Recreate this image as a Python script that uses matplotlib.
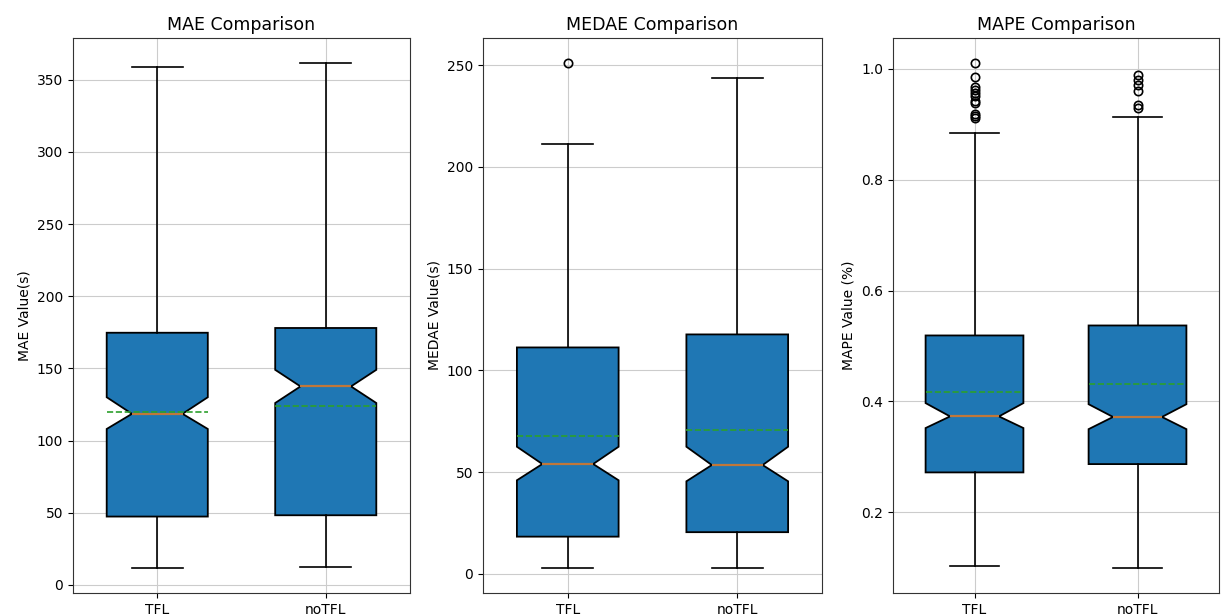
import matplotlib
matplotlib.use("Agg")
import matplotlib.pyplot as plt

groups = ["TFL", "noTFL"]

# MAE (s)
mae_whislo = [11.8, 12.5]
mae_q1 = [47.3, 48.2]
mae_med = [118.5, 137.5]
mae_q3 = [174.7, 178.0]
mae_whishi = [359.0, 361.5]
mae_mean = [119.5, 124.0]
mae_cilo = [108.0, 126.0]
mae_cihi = [130.0, 149.0]
mae_fliers = [[], []]

# MEDAE (s)
medae_whislo = [3.0, 3.0]
medae_q1 = [18.3, 20.5]
medae_med = [54.0, 53.5]
medae_q3 = [111.3, 117.7]
medae_whishi = [211.5, 243.5]
medae_mean = [68.0, 70.5]
medae_cilo = [46.0, 45.5]
medae_cihi = [62.5, 62.5]
medae_fliers = [[251.0], []]

# MAPE (%)
mape_whislo = [0.103, 0.100]
mape_q1 = [0.272, 0.287]
mape_med = [0.373, 0.372]
mape_q3 = [0.519, 0.537]
mape_whishi = [0.884, 0.913]
mape_mean = [0.417, 0.432]
mape_cilo = [0.352, 0.350]
mape_cihi = [0.397, 0.395]
mape_fliers = [[1.010, 0.986, 0.968, 0.962, 0.957, 0.950, 0.942, 0.938, 0.918, 0.914, 0.912],
               [0.988, 0.979, 0.970, 0.960, 0.935, 0.930]]


def make_stats(whislo, q1, med, q3, whishi, mean, cilo, cihi, fliers):
    stats = []
    for i, g in enumerate(groups):
        stats.append(dict(label=g, whislo=whislo[i], q1=q1[i], med=med[i], q3=q3[i],
                          whishi=whishi[i], mean=mean[i], cilo=cilo[i], cihi=cihi[i],
                          fliers=fliers[i]))
    return stats


panels = [
    ("MAE Comparison", "MAE Value(s)",
     make_stats(mae_whislo, mae_q1, mae_med, mae_q3, mae_whishi, mae_mean, mae_cilo, mae_cihi, mae_fliers)),
    ("MEDAE Comparison", "MEDAE Value(s)",
     make_stats(medae_whislo, medae_q1, medae_med, medae_q3, medae_whishi, medae_mean, medae_cilo, medae_cihi, medae_fliers)),
    ("MAPE Comparison", "MAPE Value (%)",
     make_stats(mape_whislo, mape_q1, mape_med, mape_q3, mape_whishi, mape_mean, mape_cilo, mape_cihi, mape_fliers)),
]

W, H = 1221, 615
fig = plt.figure(figsize=(W / 100, H / 100), dpi=100)

# axes boxes in pixels: left, right
px_x = [(73, 410), (483, 822), (893, 1219)]
top, bottom = 38, 593

for (title, ylabel, stats), (l, r) in zip(panels, px_x):
    ax = fig.add_axes([l / W, 1 - bottom / H, (r - l) / W, (bottom - top) / H])
    bp = ax.bxp(stats, shownotches=True, showmeans=True, meanline=True,
                patch_artist=True, widths=0.6,
                boxprops=dict(linewidth=1.3),
                whiskerprops=dict(linewidth=1.2),
                capprops=dict(linewidth=1.2),
                medianprops=dict(color='#c0773a', linewidth=1.6),
                meanprops=dict(color='#2ca02c', linestyle='--', linewidth=1.2),
                flierprops=dict(marker='o', markerfacecolor='none', markeredgewidth=1.2))
    for box in bp['boxes']:
        box.set_facecolor('#1f77b4')
        box.set_edgecolor('black')
    ax.set_title(title, fontsize=12.5)
    ax.set_ylabel(ylabel, fontsize=10)
    ax.grid(True, color='#cccccc')
    for s in ax.spines.values():
        s.set_color('#333333')

plt.savefig("out.png", dpi=100)
